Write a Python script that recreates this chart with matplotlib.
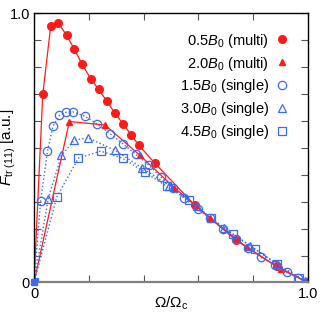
import matplotlib
matplotlib.use("Agg")
import matplotlib.pyplot as plt
from matplotlib.ticker import FixedLocator

plt.rcParams['font.family'] = ['Liberation Sans', 'DejaVu Sans']
plt.rcParams['mathtext.fontset'] = 'custom'
plt.rcParams['mathtext.rm'] = 'Liberation Sans'
plt.rcParams['mathtext.it'] = 'Liberation Sans:italic'
plt.rcParams['mathtext.cal'] = 'Liberation Sans'

RED = '#ff1a1a'
BLUE = '#3d6bef'

# 0.5 B0 (multi)
x_m05 = [0, 0.032, 0.061, 0.089, 0.119, 0.147, 0.176, 0.207, 0.236, 0.266, 0.296,
         0.326, 0.354, 0.383, 0.442, 0.588, 0.737, 0.885, 1.0]
y_m05 = [0, 0.699, 0.953, 0.964, 0.918, 0.867, 0.810, 0.757, 0.717, 0.673, 0.628,
         0.588, 0.549, 0.509, 0.442, 0.286, 0.157, 0.060, 0.0]
# 2.0 B0 (multi)
x_m20 = [0, 0.129, 0.259, 0.387, 0.512, 0.642, 0.776, 0.900, 1.0]
y_m20 = [0, 0.598, 0.585, 0.472, 0.352, 0.240, 0.131, 0.050, 0.0]
# 1.5 B0 (single)
x_s15 = [0, 0.024, 0.049, 0.069, 0.093, 0.117, 0.141, 0.186, 0.231, 0.277, 0.323,
         0.372, 0.420, 0.464, 0.508, 0.549, 0.597, 0.642, 0.691, 0.737, 0.782,
         0.828, 0.880, 0.922, 0.965, 1.0]
y_s15 = [0, 0.301, 0.487, 0.580, 0.621, 0.632, 0.634, 0.618, 0.588, 0.553, 0.516,
         0.476, 0.435, 0.391, 0.352, 0.313, 0.272, 0.240, 0.197, 0.160, 0.128,
         0.094, 0.066, 0.037, 0.017, 0.0]
# 3.0 B0 (single)
x_s30 = [0, 0.052, 0.100, 0.147, 0.197, 0.296, 0.395, 0.494, 0.593, 0.692, 0.790, 0.890, 0.990]
y_s30 = [0, 0.311, 0.472, 0.529, 0.537, 0.491, 0.425, 0.360, 0.283, 0.202, 0.135, 0.066, 0.005]
# 4.5 B0 (single)
x_s45 = [0, 0.083, 0.162, 0.243, 0.324, 0.404, 0.484, 0.565, 0.645, 0.726, 0.806, 0.887, 0.968]
y_s45 = [0, 0.317, 0.462, 0.488, 0.461, 0.410, 0.357, 0.305, 0.240, 0.180, 0.125, 0.068, 0.017]

labels = [r'0.5$B_0$ (multi)', r'2.0$B_0$ (multi)', r'1.5$B_0$ (single)',
          r'3.0$B_0$ (single)', r'4.5$B_0$ (single)']
x_ticks = [0, 0.2, 0.4, 0.6, 0.8, 1.0]
x_ticklabels = ['0', '', '', '', '', '1.0']
y_ticks = [0, 0.1, 0.2, 0.3, 0.4, 0.5, 0.6, 0.7, 0.8, 0.9, 1.0]
y_ticklabels = ['0', '', '', '', '', '', '', '', '', '', '1.0']

fig = plt.figure(figsize=(3.27, 3.17), dpi=100)
ax = fig.add_axes([0.104, 0.109, 0.838, 0.849])

ax.plot(x_m05, y_m05, '-', color=RED, lw=0.9)
ax.plot(x_m20, y_m20, '-', color=RED, lw=0.9)
ax.plot(x_s15, y_s15, ':', color=BLUE, lw=1.0)
ax.plot(x_s30, y_s30, ':', color=BLUE, lw=1.0)
ax.plot(x_s45, y_s45, ':', color=BLUE, lw=1.0)

h1, = ax.plot(x_m05, y_m05, 'o', color=RED, ms=5.5, ls='none', label=labels[0])
h2, = ax.plot(x_m20, y_m20, '^', color=RED, ms=4.5, ls='none', label=labels[1])
h3, = ax.plot(x_s15, y_s15, 'o', mfc='none', mec=BLUE, mew=0.9, ms=6, ls='none', label=labels[2])
h4, = ax.plot(x_s30, y_s30, '^', mfc='none', mec=BLUE, mew=0.9, ms=6, ls='none', label=labels[3])
h5, = ax.plot(x_s45, y_s45, 's', mfc='none', mec=BLUE, mew=0.9, ms=6, ls='none', label=labels[4])
ax.plot([0], [0], 's', color=BLUE, ms=5, zorder=5, clip_on=False)

ax.set_xlim(0, 1.0)
ax.set_ylim(0, 1.0)
ax.xaxis.set_major_locator(FixedLocator(x_ticks))
ax.yaxis.set_major_locator(FixedLocator(y_ticks))
ax.set_xticklabels(x_ticklabels)
ax.set_yticklabels(y_ticklabels)
ax.tick_params(direction='in', length=5, width=0.8, color='#555555',
               top=True, right=True, labelsize=10.5, pad=3)

for s in ['left', 'right', 'top']:
    ax.spines[s].set_linewidth(1.0)
    ax.spines[s].set_color('black')
ax.spines['bottom'].set_color('#808080')
ax.spines['bottom'].set_linewidth(1.6)

ax.set_xlabel(r'$\Omega/\Omega_{\rm c}$', fontsize=11, labelpad=-4)
ax.set_ylabel(r'$F_{\rm tr\ (11)}$ [a.u.]', fontsize=11, labelpad=-6)

ax.legend(handles=[h1, h2, h3, h4, h5], loc='upper right', markerfirst=False,
          frameon=False, fontsize=10.5, handlelength=0.8, handletextpad=0.5,
          labelspacing=0.34, borderaxespad=0.6, borderpad=0.3,
          bbox_to_anchor=(0.974, 0.981))

fig.savefig('out.png', dpi=100)
